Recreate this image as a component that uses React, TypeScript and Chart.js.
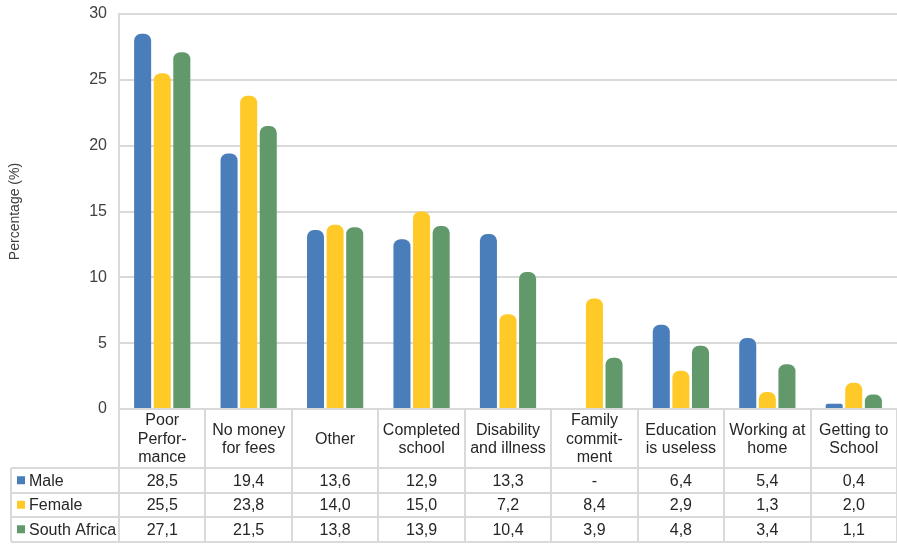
import React, { useEffect, useRef } from "react";
import { Chart, registerables } from "chart.js";

Chart.register(...registerables);

const categories: string[][] = [
  ["Poor", "Perfor-", "mance"],
  ["No money", "for fees"],
  ["Other"],
  ["Completed", "school"],
  ["Disability", "and illness"],
  ["Family", "commit-", "ment"],
  ["Education", "is useless"],
  ["Working at", "home"],
  ["Getting to", "School"],
];

const seriesNames = ["Male", "Female", "South Africa"];
const male: (number | null)[] = [28.5, 19.4, 13.6, 12.9, 13.3, null, 6.4, 5.4, 0.4];
const female: (number | null)[] = [25.5, 23.8, 14.0, 15.0, 7.2, 8.4, 2.9, 1.3, 2.0];
const southAfrica: (number | null)[] = [27.1, 21.5, 13.8, 13.9, 10.4, 3.9, 4.8, 3.4, 1.1];
const colors = ["#4a7ebb", "#ffca28", "#62996a"];
const yTicks = [0, 5, 10, 15, 20, 25, 30];

const FONT = "'Liberation Sans', Arial, sans-serif";
const GRID = "#d9d9d9";

const fmt = (v: number | null) => (v === null ? "-" : v.toFixed(1).replace(".", ","));

const tablePlugin = {
  id: "dataTable",
  afterDraw(chart: any) {
    const ctx = chart.ctx as CanvasRenderingContext2D;
    const xs = chart.scales.x;
    const area = chart.chartArea;
    const n = categories.length;
    const colW = (area.right - area.left) / n;
    const top = area.bottom;
    const headerBottom = top + 59;
    const rowH = 24.5;
    const rows = [male, female, southAfrica];
    const tableBottom = headerBottom + rowH * 3;
    const leftX = 11;

    ctx.save();
    ctx.strokeStyle = GRID;
    ctx.lineWidth = 2;
    for (let k = 0; k <= n; k++) {
      const x = Math.round(area.left + colW * k);
      ctx.beginPath();
      ctx.moveTo(x, top);
      ctx.lineTo(x, tableBottom);
      ctx.stroke();
    }
    ctx.beginPath();
    ctx.moveTo(leftX, headerBottom);
    ctx.lineTo(leftX, tableBottom);
    ctx.stroke();
    for (let r = 0; r <= 3; r++) {
      const y = Math.round(headerBottom + rowH * r);
      ctx.beginPath();
      ctx.moveTo(leftX, y);
      ctx.lineTo(area.right, y);
      ctx.stroke();
    }

    ctx.fillStyle = "#262626";
    ctx.font = `16px ${FONT}`;
    ctx.textAlign = "center";
    ctx.textBaseline = "middle";
    const lh = 18.5;
    const hc = (top + headerBottom) / 2 + 1;
    categories.forEach((lines, i) => {
      const cx = xs.getPixelForValue(i);
      const start = hc - ((lines.length - 1) * lh) / 2;
      lines.forEach((ln, j) => ctx.fillText(ln, cx, start + j * lh));
    });

    rows.forEach((vals, r) => {
      const cy = headerBottom + rowH * r + rowH / 2 + 1;
      vals.forEach((v, i) => {
        ctx.fillText(fmt(v), xs.getPixelForValue(i), cy);
      });
      ctx.fillStyle = colors[r];
      ctx.fillRect(17, cy - 5, 8, 8);
      ctx.fillStyle = "#262626";
      ctx.textAlign = "left";
      ctx.fillText(seriesNames[r], 29, cy);
      ctx.textAlign = "center";
    });
    ctx.restore();
  },
};

export default function App() {
  const ref = useRef<HTMLCanvasElement>(null);
  useEffect(() => {
    if (!ref.current) return;
    const datasets = [male, female, southAfrica].map((d, i) => ({
      label: seriesNames[i],
      data: d,
      backgroundColor: colors[i],
      borderRadius: 7,
      borderSkipped: "start" as const,
      categoryPercentage: 0.68,
      barPercentage: 0.87,
    }));
    const chart = new Chart(ref.current, {
      type: "bar",
      data: { labels: categories.map((c) => c.join(" ")), datasets },
      options: {
        animation: false,
        responsive: true,
        maintainAspectRatio: false,
        layout: { padding: { top: 14, bottom: 135, left: 0, right: 0 } },
        plugins: { legend: { display: false }, tooltip: { enabled: false } },
        scales: {
          x: { display: false },
          y: {
            min: 0,
            max: 30,
            afterBuildTicks: (s: any) => {
              s.ticks = yTicks.map((v) => ({ value: v }));
            },
            afterFit: (s: any) => {
              s.width = 119;
              s.paddingTop = 0;
              s.paddingBottom = 0;
            },
            ticks: {
              padding: 12,
              color: "#404040",
              font: { family: FONT, size: 16 },
            },
            grid: { color: GRID, lineWidth: 2, drawTicks: false },
            border: { color: GRID, width: 2 },
            title: {
              display: true,
              text: "Percentage (%)",
              color: "#404040",
              font: { family: FONT, size: 14 },
              padding: { top: 7, bottom: 0 },
            },
          },
        },
      },
      plugins: [tablePlugin],
    });
    return () => chart.destroy();
  }, []);
  return (
    <div style={{ position: "fixed", left: 0, top: 0, width: 897, height: 544, background: "#fff" }}>
      <canvas ref={ref} />
    </div>
  );
}
